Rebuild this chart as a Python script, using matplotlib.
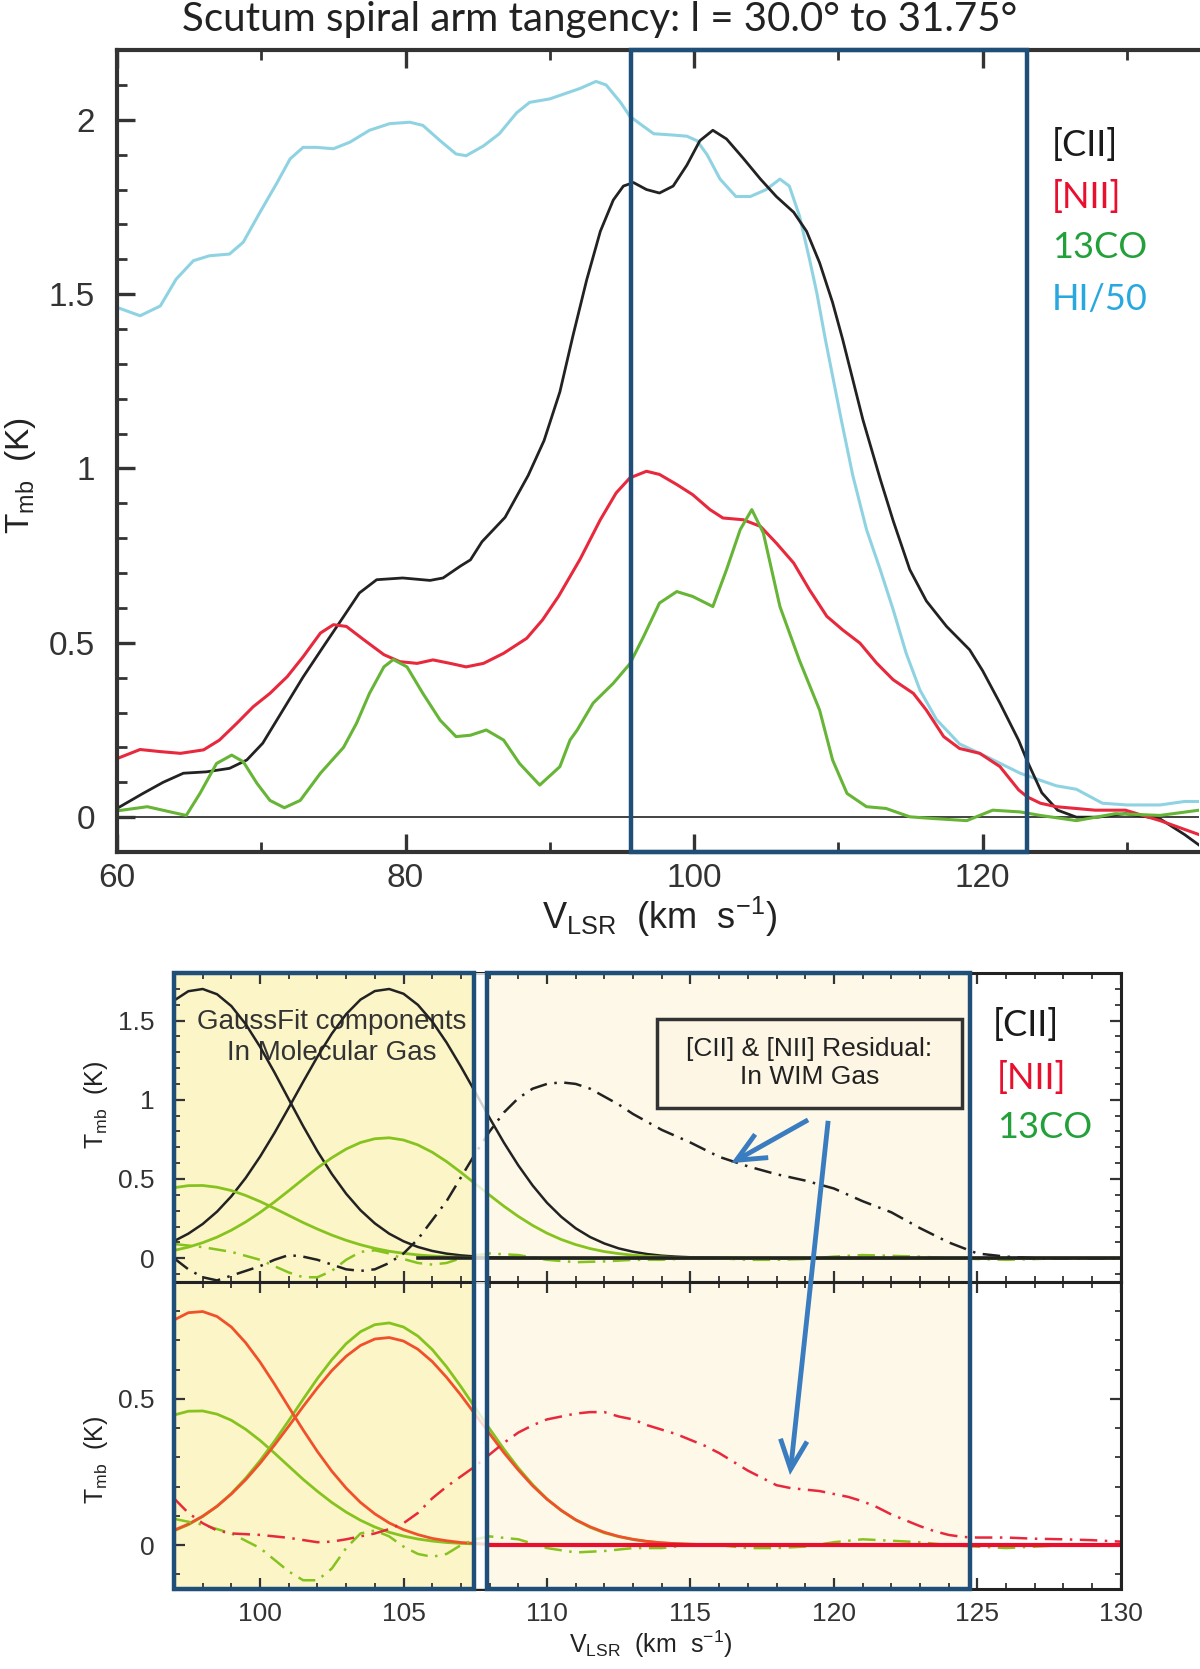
import numpy as np
import matplotlib
matplotlib.use('Agg')
import matplotlib.pyplot as plt
import matplotlib.transforms as mtransforms
from matplotlib.patches import Rectangle, ConnectionPatch
from matplotlib.ticker import MultipleLocator, FuncFormatter

plt.rcParams['font.family'] = ['Liberation Sans', 'DejaVu Sans']
plt.rcParams['mathtext.fontset'] = 'custom'
plt.rcParams['mathtext.rm'] = 'Liberation Sans'
plt.rcParams['mathtext.it'] = 'Liberation Sans:italic'

# ---- top panel: observed spectra (l = 30.0 to 31.75 deg) ----
v_hi = [60.0, 61.6, 63.0, 64.1, 65.3, 66.4, 67.8, 68.75, 69.9, 71.1, 72.0, 72.9, 73.8, 75.0,
        76.15, 77.5, 78.9, 80.3, 81.2, 82.4, 83.5, 84.2, 85.4, 86.5, 87.7, 88.6, 90.0, 91.4,
        92.1, 93.2, 93.9, 94.9, 95.55, 96.2, 97.2, 98.3, 99.5, 100.2, 100.9, 101.8, 102.9,
        103.9, 105.0, 105.95, 106.6, 107.3, 108.0, 108.5, 109.1, 110.2, 111.0, 111.95, 112.9,
        113.8, 114.7, 115.65, 116.8, 118.4, 120.3, 122.6, 125.1, 126.5, 128.3, 130.0, 132.3,
        134.0, 135.0]
t_hi = [1.462, 1.438, 1.466, 1.543, 1.596, 1.61, 1.615, 1.649, 1.734, 1.82, 1.888, 1.921, 1.921,
        1.917, 1.936, 1.97, 1.989, 1.993, 1.984, 1.94, 1.902, 1.897, 1.925, 1.96, 2.02, 2.05,
        2.06, 2.08, 2.09, 2.11, 2.10, 2.05, 2.01, 1.99, 1.96, 1.957, 1.953, 1.94, 1.90, 1.83,
        1.78, 1.78, 1.80, 1.83, 1.81, 1.725, 1.60, 1.505, 1.37, 1.14, 0.98, 0.825, 0.71,
        0.595, 0.47, 0.365, 0.28, 0.21, 0.173, 0.126, 0.09, 0.08, 0.04, 0.035, 0.035,
        0.045, 0.045]

v_cii = [60.0, 61.8, 63.2, 64.6, 66.2, 67.8, 69.0, 70.1, 71.5, 72.9, 74.3, 75.7, 76.8, 78.0,
         79.8, 81.7, 82.6, 83.8, 84.5, 85.3, 86.9, 88.5, 89.6, 90.7, 91.6, 92.55, 93.5, 94.4,
         95.1, 95.8, 96.7, 97.6, 98.55, 99.5, 100.4, 101.3, 102.25, 103.4, 104.6, 105.7,
         106.9, 107.8, 108.7, 109.6, 110.3, 111.7, 112.9, 113.8, 114.95, 116.1, 117.5, 119.1,
         120.0, 121.2, 122.5, 123.1, 124.1, 125.2, 126.5, 128.0, 129.9, 132.3, 134.0, 135.0]
t_cii = [0.025, 0.068, 0.10, 0.126, 0.13, 0.14, 0.164, 0.212, 0.307, 0.402, 0.489, 0.575,
         0.643, 0.681, 0.686, 0.679, 0.686, 0.72, 0.738, 0.79, 0.86, 0.98, 1.08, 1.22, 1.38,
         1.54, 1.68, 1.77, 1.81, 1.82, 1.80, 1.79, 1.81, 1.87, 1.94, 1.97, 1.945, 1.89, 1.83,
         1.78, 1.735, 1.68, 1.59, 1.476, 1.37, 1.14, 0.97, 0.85, 0.71, 0.62, 0.547, 0.48,
         0.42, 0.327, 0.22, 0.16, 0.07, 0.02, 0.0, 0.0, 0.01, -0.005, -0.05, -0.08]

v_nii = [60.0, 61.6, 63.0, 64.4, 66.0, 67.1, 68.3, 69.45, 70.6, 71.8, 72.9, 74.1, 75.0, 75.9,
         77.1, 78.5, 79.6, 80.8, 81.9, 83.1, 84.2, 85.4, 86.8, 88.4, 89.5, 90.6, 91.4, 92.1,
         93.5, 94.6, 95.55, 96.7, 97.6, 98.8, 99.9, 101.1, 102.0, 103.4, 104.6, 105.7, 106.9,
         108.0, 109.2, 110.3, 111.5, 112.65, 113.8, 115.2, 116.1, 117.3, 118.4, 119.8, 121.2,
         122.5, 123.1, 124.0, 125.1, 127.8, 129.9, 132.3, 135.0]
t_nii = [0.168, 0.194, 0.188, 0.183, 0.193, 0.221, 0.269, 0.317, 0.355, 0.403, 0.46, 0.528,
         0.552, 0.547, 0.509, 0.466, 0.446, 0.441, 0.451, 0.441, 0.431, 0.441, 0.47, 0.513,
         0.566, 0.633, 0.69, 0.74, 0.853, 0.93, 0.973, 0.992, 0.983, 0.954, 0.925, 0.882,
         0.858, 0.853, 0.834, 0.786, 0.729, 0.652, 0.576, 0.537, 0.499, 0.442, 0.394, 0.355,
         0.307, 0.231, 0.197, 0.183, 0.145, 0.078, 0.058, 0.04, 0.03, 0.02, 0.02, -0.01, -0.05]

v_co = [60.0, 62.1, 63.7, 64.8, 65.75, 66.9, 67.95, 68.75, 69.7, 70.6, 71.6, 72.7, 74.1, 75.7,
        76.6, 77.5, 78.5, 79.15, 80.1, 81.2, 82.4, 83.5, 84.5, 85.6, 86.8, 87.9, 89.3, 90.2,
        90.7, 91.4, 91.9, 93.0, 94.4, 95.55, 96.5, 97.6, 98.8, 99.9, 101.3, 102.25, 103.2,
        104.0, 104.8, 105.95, 107.3, 108.7, 109.6, 110.6, 111.95, 113.3, 114.95, 116.6, 118.9,
        120.7, 122.6, 124.0, 126.5, 129.2, 132.3, 135.0]
t_co = [0.018, 0.03, 0.015, 0.005, 0.068, 0.154, 0.178, 0.159, 0.097, 0.048, 0.027, 0.048,
        0.126, 0.20, 0.269, 0.355, 0.431, 0.452, 0.431, 0.355, 0.278, 0.231, 0.235, 0.25,
        0.221, 0.154, 0.092, 0.126, 0.145, 0.221, 0.25, 0.327, 0.384, 0.44, 0.518, 0.614,
        0.647, 0.633, 0.604, 0.71, 0.825, 0.882, 0.815, 0.604, 0.45, 0.307, 0.164, 0.068,
        0.03, 0.025, 0.001, -0.004, -0.01, 0.02, 0.015, 0.005, -0.01, 0.01, 0.005, 0.02]

# ---- bottom panels: Gauss fit components and residuals ----
v_fit = [97.0, 97.5, 98.0, 98.5, 99.0, 99.5, 100.0, 100.5, 101.0, 101.5, 102.0, 102.5,
         103.0, 103.5, 104.0, 104.5, 105.0, 105.5, 106.0, 106.5, 107.0, 107.5, 108.0, 108.5,
         109.0, 109.5, 110.0, 110.5, 111.0, 111.5, 112.0, 112.5, 113.0, 113.5, 114.0, 114.5,
         115.0, 115.5, 116.0, 116.5, 117.0, 117.5, 118.0, 120.0, 122.0, 124.0, 126.0, 128.0, 130.0]

cii_g1 = [1.626, 1.685, 1.699, 1.666, 1.591, 1.477, 1.334, 1.173, 1.003, 0.834, 0.675, 0.532,
          0.407, 0.303, 0.220, 0.155, 0.107, 0.071, 0.046, 0.029, 0.018, 0.011, 0.006, 0.004,
          0.002, 0.001, 0, 0, 0, 0, 0, 0, 0, 0, 0, 0, 0, 0, 0, 0, 0, 0, 0, 0, 0, 0, 0, 0, 0]
cii_g2 = [0.108, 0.155, 0.216, 0.294, 0.391, 0.507, 0.641, 0.790, 0.950, 1.113, 1.272, 1.417,
          1.540, 1.632, 1.686, 1.699, 1.669, 1.599, 1.494, 1.361, 1.209, 1.048, 0.885, 0.729,
          0.586, 0.459, 0.350, 0.261, 0.189, 0.134, 0.093, 0.062, 0.041, 0.026, 0.016, 0.010,
          0.006, 0.004, 0.002, 0.001, 0, 0, 0, 0, 0, 0, 0, 0, 0]
co_g1 = [0.445, 0.458, 0.459, 0.448, 0.427, 0.396, 0.358, 0.315, 0.270, 0.225, 0.184, 0.146,
         0.113, 0.085, 0.062, 0.044, 0.031, 0.021, 0.014, 0.009, 0.006, 0.004, 0.002, 0.001,
         0, 0, 0, 0, 0, 0, 0, 0, 0, 0, 0, 0, 0, 0, 0, 0, 0, 0, 0, 0, 0, 0, 0, 0, 0]
co_g2 = [0.049, 0.070, 0.098, 0.133, 0.177, 0.229, 0.289, 0.355, 0.426, 0.499, 0.570, 0.634,
         0.689, 0.730, 0.754, 0.760, 0.746, 0.715, 0.669, 0.610, 0.542, 0.470, 0.398, 0.328,
         0.264, 0.207, 0.158, 0.118, 0.086, 0.061, 0.042, 0.029, 0.019, 0.012, 0.008, 0.005,
         0.003, 0.002, 0.001, 0, 0, 0, 0, 0, 0, 0, 0, 0, 0]
nii_g1 = [0.770, 0.795, 0.799, 0.782, 0.746, 0.692, 0.626, 0.551, 0.472, 0.394, 0.320, 0.253,
          0.195, 0.146, 0.107, 0.076, 0.053, 0.036, 0.023, 0.015, 0.009, 0.006, 0.003, 0.002,
          0.001, 0, 0, 0, 0, 0, 0, 0, 0, 0, 0, 0, 0, 0, 0, 0, 0, 0, 0, 0, 0, 0, 0, 0, 0]
nii_g2 = [0.051, 0.072, 0.099, 0.133, 0.175, 0.224, 0.280, 0.342, 0.407, 0.474, 0.538, 0.597,
          0.646, 0.683, 0.705, 0.710, 0.698, 0.670, 0.628, 0.574, 0.513, 0.447, 0.381, 0.316,
          0.257, 0.203, 0.157, 0.119, 0.087, 0.063, 0.044, 0.030, 0.020, 0.013, 0.008, 0.005,
          0.003, 0.002, 0.001, 0, 0, 0, 0, 0, 0, 0, 0, 0, 0]

v_res_cii = [97.0, 97.5, 98.0, 98.5, 99.0, 99.5, 100.0, 100.5, 101.0, 101.5, 102.0, 102.5,
             103.0, 103.5, 104.0, 104.5, 105.0, 105.5, 106.0, 106.5, 107.0, 107.5, 108.0, 108.5,
             109.0, 109.5, 110.0, 110.5, 111.0, 111.5, 112.0, 112.5, 113.0, 113.5, 114.0, 115.0,
             116.0, 117.0, 118.0, 119.0, 120.0, 121.0, 122.0, 123.0, 124.0, 125.0, 126.0, 127.0,
             128.0, 130.0]
res_cii = [0.0, -0.07, -0.12, -0.14, -0.11, -0.08, -0.05, -0.01, 0.02, 0.01, -0.01, -0.04,
           -0.07, -0.08, -0.07, -0.03, 0.03, 0.12, 0.24, 0.36, 0.51, 0.66, 0.80, 0.92,
           1.01, 1.07, 1.10, 1.11, 1.10, 1.07, 1.02, 0.97, 0.91, 0.86, 0.81, 0.73,
           0.64, 0.58, 0.53, 0.49, 0.44, 0.36, 0.29, 0.19, 0.10, 0.03, 0.01, 0.0,
           0.0, 0.0]

v_res_nii = [97.0, 97.5, 98.0, 98.5, 99.0, 100.0, 101.0, 102.0, 102.5, 103.0, 103.5, 104.0,
             104.5, 105.0, 105.5, 106.0, 106.5, 107.0, 107.5, 108.0, 108.5, 109.0, 109.5, 110.0,
             110.5, 111.0, 111.5, 112.0, 112.5, 113.0, 113.5, 114.0, 114.5, 115.0, 115.5, 116.0,
             116.5, 117.0, 117.5, 118.0, 118.5, 119.0, 119.5, 120.0, 120.5, 121.0, 121.5, 122.0,
             122.5, 123.0, 123.5, 124.0, 124.5, 125.0, 126.0, 127.0, 128.0, 129.0, 130.0]
res_nii = [0.16, 0.11, 0.075, 0.05, 0.04, 0.035, 0.025, 0.01, 0.012, 0.02, 0.03, 0.04,
           0.055, 0.075, 0.11, 0.16, 0.20, 0.235, 0.27, 0.31, 0.35, 0.385, 0.41, 0.43,
           0.44, 0.45, 0.455, 0.455, 0.44, 0.43, 0.41, 0.395, 0.38, 0.36, 0.34, 0.315,
           0.285, 0.255, 0.23, 0.205, 0.195, 0.19, 0.185, 0.175, 0.165, 0.15, 0.13, 0.105,
           0.085, 0.065, 0.048, 0.035, 0.028, 0.026, 0.026, 0.022, 0.02, 0.017, 0.012]

v_res_co = [97.0, 98.0, 99.0, 99.5, 100.0, 100.5, 101.0, 101.5, 102.0, 102.5, 103.0, 103.5,
            104.0, 104.5, 105.0, 105.5, 106.0, 106.5, 107.0, 107.5, 108.0, 109.0, 110.0, 111.0,
            112.0, 113.0, 114.0, 115.0, 116.0, 117.0, 118.0, 119.0, 120.0, 121.0, 122.0, 123.0,
            124.0, 125.0, 126.0, 127.0, 128.0, 130.0]
res_co = [0.09, 0.07, 0.04, 0.015, -0.01, -0.05, -0.09, -0.12, -0.12, -0.08, -0.01, 0.04,
          0.05, 0.03, -0.005, -0.03, -0.04, -0.03, 0.0, 0.02, 0.03, 0.02, -0.01, -0.025,
          -0.02, -0.01, -0.01, 0.0, 0.0, -0.01, -0.01, -0.005, 0.01, 0.02, 0.015, 0.01,
          0.0, -0.005, -0.01, -0.005, 0.0, 0.0]

# colours
c_cii = '#222222'
c_nii = '#e8283c'
c_co = '#66b536'
c_hi = '#8fd3e3'
c_nii_fit = '#f0502a'
c_co_fit = '#86c31e'
navy = '#1f4e79'
arrow_blue = '#3a7cc0'
dashdot = (0, (7, 3, 1, 3))


def fx(px):
    return px / 1200.0


def fy(py):
    return 1.0 - py / 1669.0


fig = plt.figure(figsize=(12, 16.69), dpi=100)

# ---------------- top panel ----------------
ax_top = fig.add_axes([0.0975, 0.4895, 0.9017, 0.4805])
ax_top.plot(v_hi, t_hi, color=c_hi, lw=2.2, solid_joinstyle='round')
ax_top.plot(v_cii, t_cii, color=c_cii, lw=2.0, solid_joinstyle='round')
ax_top.plot(v_nii, t_nii, color=c_nii, lw=2.2, solid_joinstyle='round')
ax_top.plot(v_co, t_co, color=c_co, lw=2.2, solid_joinstyle='round')
ax_top.axhline(0, color='#222222', lw=1.2, zorder=1)
ax_top.set_xlim(60, 135)
ax_top.set_ylim(-0.1, 2.2)
ax_top.xaxis.set_major_locator(MultipleLocator(20))
ax_top.xaxis.set_minor_locator(MultipleLocator(10))
ax_top.yaxis.set_major_locator(MultipleLocator(0.5))
ax_top.yaxis.set_minor_locator(MultipleLocator(0.1))
ax_top.yaxis.set_major_formatter(FuncFormatter(lambda v, p: f'{v:g}'))
ax_top.tick_params(which='both', direction='in', top=True, right=False, color='#333333')
ax_top.tick_params(which='major', length=13, width=2.4, labelsize=24, labelcolor='#333333')
ax_top.tick_params(which='minor', length=7, width=2.0)
ax_top.tick_params(axis='x', which='major', pad=8)
ax_top.tick_params(axis='y', which='major', pad=16)
for side in ['left', 'bottom', 'top']:
    ax_top.spines[side].set_linewidth(3)
    ax_top.spines[side].set_color('#333333')
ax_top.spines['right'].set_visible(False)

tr_top = mtransforms.blended_transform_factory(ax_top.transData, ax_top.transAxes)
ax_top.add_patch(Rectangle((95.62, 0), 123.06 - 95.62, 1, transform=tr_top, fill=False,
                           ec=navy, lw=3.2, clip_on=False, zorder=6))

fig.text(0.5, fy(19), 'Scutum spiral arm tangency: l = 30.0° to 31.75°', family='Lato',
         fontsize=29, ha='center', va='center', color='#222222')
fig.text(fx(21), fy(475), r'T$_{\mathrm{mb}}$  (K)', rotation=90, fontsize=24,
         ha='center', va='center', color='#222222')
fig.text(fx(660), fy(917), r'V$_{\mathrm{LSR}}$  (km  s$^{-1}$)', fontsize=26,
         ha='center', va='center', color='#222222')

for label, col, py in [('[CII]', '#1a1a1a', 145), ('[NII]', '#e8102e', 197),
                       ('13CO', '#22a03a', 247), ('HI/50', '#29a8e0', 300)]:
    fig.text(fx(1052), fy(py), label, family='Lato', fontsize=26, color=col,
             ha='left', va='center')

# ---------------- bottom panels ----------------
ax_up = fig.add_axes([0.145, 0.23188, 0.789, 0.18514])
ax_lo = fig.add_axes([0.145, 0.04793, 0.789, 0.18395])

for ax in (ax_up, ax_lo):
    ax.axvspan(97, 107.45, fc='#fbf5c8', ec='none', zorder=0)
    ax.axvspan(107.9, 124.75, fc='#fdf8e8', ec='none', zorder=0)
    ax.set_xlim(97, 130)
    ax.xaxis.set_major_locator(MultipleLocator(5))
    ax.xaxis.set_minor_locator(MultipleLocator(1))
    ax.yaxis.set_major_locator(MultipleLocator(0.5))
    ax.yaxis.set_minor_locator(MultipleLocator(0.1))
    ax.yaxis.set_major_formatter(FuncFormatter(lambda v, p: f'{v:g}'))
    ax.tick_params(which='both', direction='in', top=True, right=True, color='#333333')
    ax.tick_params(which='major', length=8, width=1.6, labelsize=19, labelcolor='#333333')
    ax.tick_params(which='minor', length=4.5, width=1.3)
    ax.tick_params(axis='x', which='major', pad=9)
    ax.tick_params(axis='y', which='major', pad=14)
    for side in ax.spines:
        ax.spines[side].set_linewidth(2.2)
        ax.spines[side].set_color('#222222')

ax_up.set_ylim(-0.15, 1.8)
ax_lo.set_ylim(-0.15, 0.9)
ax_up.tick_params(labelbottom=False)

# upper: [CII] and 13CO
ax_up.plot(v_fit, cii_g1, color=c_cii, lw=1.8, zorder=2)
ax_up.plot(v_fit, cii_g2, color=c_cii, lw=1.8, zorder=2)
ax_up.plot(v_fit, co_g1, color=c_co_fit, lw=2.0, zorder=2)
ax_up.plot(v_fit, co_g2, color=c_co_fit, lw=2.0, zorder=2)
ax_up.plot(v_res_co, res_co, color=c_co_fit, lw=1.8, ls=dashdot, zorder=2)
ax_up.plot(v_res_cii, res_cii, color=c_cii, lw=1.8, ls=dashdot, zorder=2)
ax_up.axhline(0, xmin=(105.5 - 97) / 33, color=c_cii, lw=2.6, zorder=2.5)

# lower: [NII] and 13CO
ax_lo.plot(v_fit, co_g1, color=c_co_fit, lw=2.0, zorder=2)
ax_lo.plot(v_fit, co_g2, color=c_co_fit, lw=2.0, zorder=2)
ax_lo.plot(v_fit, nii_g1, color=c_nii_fit, lw=2.0, zorder=2)
ax_lo.plot(v_fit, nii_g2, color=c_nii_fit, lw=2.0, zorder=2)
ax_lo.plot(v_res_co, res_co, color=c_co_fit, lw=1.8, ls=dashdot, zorder=2)
ax_lo.plot(v_res_nii, res_nii, color=c_nii, lw=1.8, ls=dashdot, zorder=2)
ax_lo.axhline(0, xmin=(107.9 - 97) / 33, color='#e8102e', lw=3.0, zorder=2.5)

for ax in (ax_up, ax_lo):
    ax.axvspan(107.45, 107.9, fc='white', ec='none', alpha=0.8, zorder=4)

ax_up.text(102.5, 1.39, 'GaussFit components\nIn Molecular Gas', fontsize=20,
           ha='center', va='center', color='#333333', linespacing=1.25, zorder=1)
ax_up.add_patch(Rectangle((113.85, 0.95), 10.6, 0.56, fc='#fdf6e4', ec='#333333',
                          lw=2.5, zorder=3))
ax_up.text(119.15, 1.23, '[CII] & [NII] Residual:\nIn WIM Gas', fontsize=19,
           ha='center', va='center', color='#222222', linespacing=1.2, zorder=3.5)

# navy boxes spanning both bottom panels
tr_box = mtransforms.blended_transform_factory(ax_lo.transData, fig.transFigure)
fig.add_artist(Rectangle((97.0, 0.04793), 107.45 - 97.0, 0.41702 - 0.04793,
                         transform=tr_box, fill=False, ec=navy, lw=3.2, zorder=6))
fig.add_artist(Rectangle((107.9, 0.04793), 124.75 - 107.9, 0.41702 - 0.04793,
                         transform=tr_box, fill=False, ec=navy, lw=3.2, zorder=6))

fig.text(fx(993), fy(1025), '[CII]', family='Lato', fontsize=26, color='#1a1a1a',
         ha='left', va='center')
fig.text(fx(997), fy(1078), '[NII]', family='Lato', fontsize=26, color='#e8102e',
         ha='left', va='center')
fig.text(fx(997), fy(1128), '13CO', family='Lato', fontsize=26, color='#22a03a',
         ha='left', va='center')

fig.text(fx(96), fy(1105), r'T$_{\mathrm{mb}}$  (K)', rotation=90, fontsize=18,
         ha='center', va='center', color='#222222')
fig.text(fx(96), fy(1460), r'T$_{\mathrm{mb}}$  (K)', rotation=90, fontsize=18,
         ha='center', va='center', color='#222222')
fig.text(fx(651), fy(1644), r'V$_{\mathrm{LSR}}$  (km  s$^{-1}$)', fontsize=18,
         ha='center', va='center', color='#222222')

# ---------------- arrows ----------------
arrow_kw = dict(arrowstyle='->,head_length=0.7,head_width=0.32', mutation_scale=30,
                color=arrow_blue, zorder=7, capstyle='butt', joinstyle='miter')
fig.add_artist(ConnectionPatch(xyA=(94.65, -0.089), coordsA='data', axesA=ax_top,
                               xyB=(96.6, 1.78), coordsB='data', axesB=ax_up,
                               lw=4.5, **arrow_kw))
fig.add_artist(ConnectionPatch(xyA=(123.06, -0.098), coordsA='data', axesA=ax_top,
                               xyB=(130.14, 1.80), coordsB='data', axesB=ax_up,
                               lw=4.5, **arrow_kw))
fig.add_artist(ConnectionPatch(xyA=(119.1, 0.873), coordsA='data', axesA=ax_up,
                               xyB=(116.42, 0.60), coordsB='data', axesB=ax_up,
                               lw=3.5, **arrow_kw))
fig.add_artist(ConnectionPatch(xyA=(119.8, 0.867), coordsA='data', axesA=ax_up,
                               xyB=(118.47, 0.24), coordsB='data', axesB=ax_lo,
                               lw=3.5, **arrow_kw))

fig.savefig('out.png', dpi=100)
